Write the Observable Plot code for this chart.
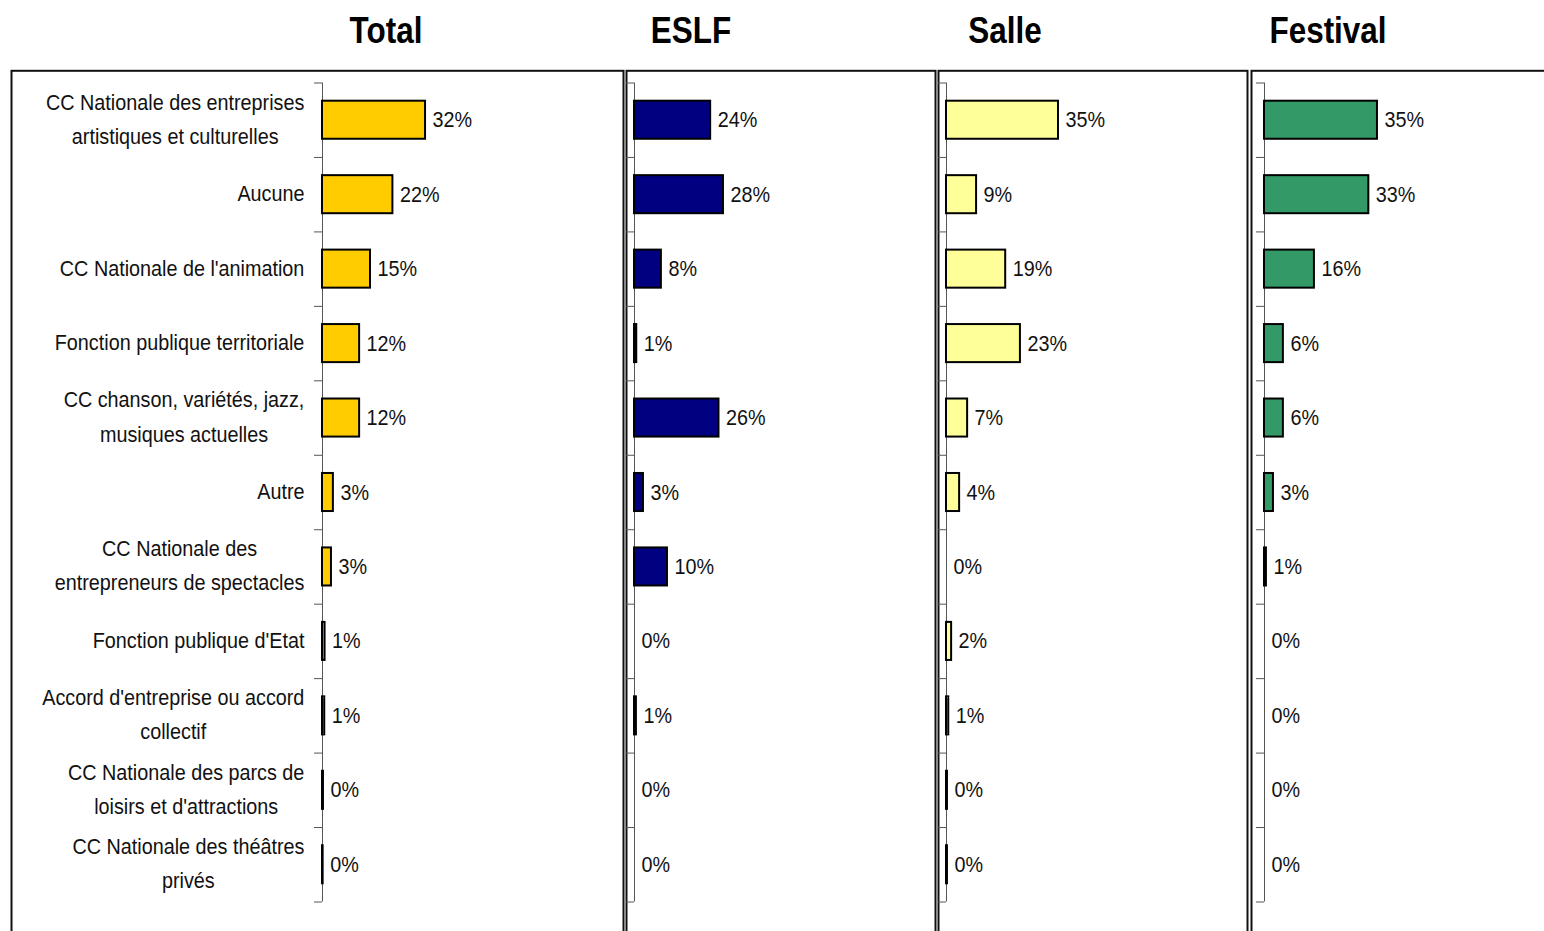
<!DOCTYPE html>
<html><head><meta charset="utf-8">
<script src="https://cdn.jsdelivr.net/npm/d3@7"></script>
<script src="https://cdn.jsdelivr.net/npm/@observablehq/plot@0.6"></script>
<style>
html,body{margin:0;padding:0;background:#fff;overflow:hidden;}
#wrap{position:relative;width:1544px;height:931px;overflow:hidden;}
.ttl{position:absolute;top:12px;transform:translateX(-50%) scaleX(0.85);font-family:'Liberation Sans',Arial,sans-serif;font-weight:bold;font-size:37px;line-height:1;color:#000;white-space:nowrap;}
.panel{position:absolute;top:0;line-height:0;}
.panel svg{display:block;max-width:none;overflow:visible;}
</style></head>
<body><div id="wrap"></div>
<script>
const categories = [
  "CC Nationale des entreprises\nartistiques et culturelles",
  "Aucune",
  "CC Nationale de l'animation",
  "Fonction publique territoriale",
  "CC chanson, variétés, jazz,\nmusiques actuelles",
  "Autre",
  "CC Nationale des\nentrepreneurs de spectacles",
  "Fonction publique d'Etat",
  "Accord d'entreprise ou accord\ncollectif",
  "CC Nationale des parcs de\nloisirs et d'attractions",
  "CC Nationale des théâtres\nprivés"
];
const seriesNames = ["Total", "ESLF", "Salle", "Festival"];
const totalValues    = [32.2, 22.0, 15.0, 11.6, 11.6, 3.4, 2.8, 0.8, 0.7, 0.3, 0.2];
const eslfValues     = [23.8, 27.8, 8.4, 0.7, 26.4, 2.8, 10.3, 0, 0.6, 0, 0];
const salleValues    = [35.0, 9.4, 18.5, 23.1, 6.6, 4.1, 0, 1.6, 0.7, 0.3, 0.3];
const festivalValues = [35.3, 32.6, 15.6, 5.9, 5.9, 2.8, 0.6, 0, 0, 0, 0];
const seriesColors = ["#FFCC00", "#000080", "#FFFF99", "#339966"];

const allValues = [totalValues, eslfValues, salleValues, festivalValues];
const FONT = "'Liberation Sans', Arial, sans-serif";
const NARROW = 0.9; // emulate Arial Narrow

// layout (page px)
const panels = [
  {frameLeft: 11,   axis: 322,  title: 386},
  {frameLeft: 626,  axis: 634,  title: 691},
  {frameLeft: 938,  axis: 946,  title: 1005},
  {frameLeft: 1251, axis: 1264, title: 1328}
];
const plotTop = 82.5, plotBottom = 901.5, svgH = 960, plotW = 302, pxPerPct = 3.2;
const bw = (plotBottom - plotTop) / categories.length;

const ctx = document.createElement("canvas").getContext("2d");
ctx.font = `22px ${FONT}`;
const measure = s => NARROW * Math.max(...s.split("\n").map(l => ctx.measureText(l).width));

const wrap = document.getElementById("wrap");
panels.forEach((p, k) => {
  const data = categories.map((c, i) => ({cat: c, value: allValues[k][i]}));
  const svgLeft = p.frameLeft - 4;
  const marginLeft = p.axis - svgLeft;
  const marks = [
    Plot.frame({stroke: "#111", strokeWidth: 2, insetLeft: -(p.axis - p.frameLeft), insetTop: -(plotTop - 70.3), insetBottom: -80, insetRight: 1}),
    Plot.ruleX([0], {stroke: "#555", strokeWidth: 1}),
    Plot.axisY({tickSize: 8, tickFormat: () => "", label: null, stroke: "#555", dy: -bw / 2}),
    Plot.axisY({ticks: [categories[categories.length - 1]], tickSize: 8, tickFormat: () => "", label: null, stroke: "#555", dy: bw / 2}),
    Plot.barX(data, {y: "cat", x: "value", fill: seriesColors[k], stroke: "#000", strokeWidth: 2, insetTop: 18.2, insetBottom: 18.2}),
    Plot.text(data, {y: "cat", x: "value", text: d => Math.round(d.value) + "%", textAnchor: "start", dx: 7, fontSize: 22, fill: "#111"})
  ];
  if (k === 0) {
    categories.forEach(c => {
      marks.push(Plot.text([c], {y: d => d, text: d => d, frameAnchor: "left", textAnchor: "middle",
        dx: -(18 + measure(c) / 2), dy: -4.5, lineHeight: 1.55, fontSize: 22, fill: "#111"}));
    });
  }
  const chart = Plot.plot({
    width: marginLeft + plotW,
    height: svgH,
    marginLeft, marginRight: 0, marginTop: plotTop, marginBottom: svgH - plotBottom,
    style: {fontFamily: FONT, background: "transparent", overflow: "visible"},
    x: {domain: [0, plotW / pxPerPct], axis: null},
    y: {domain: categories, padding: 0, round: false, axis: null},
    marks
  });
  // condense text horizontally (Arial Narrow look)
  chart.querySelectorAll("text").forEach(t => {
    const tr = t.getAttribute("transform") || "";
    t.setAttribute("transform", `${tr} scale(${NARROW},1)`);
  });
  const div = document.createElement("div");
  div.className = "panel";
  div.style.left = svgLeft + "px";
  div.appendChild(chart);
  wrap.appendChild(div);
  const t = document.createElement("div");
  t.className = "ttl";
  t.style.left = p.title + "px";
  t.textContent = seriesNames[k];
  wrap.appendChild(t);
});
</script></body></html>
